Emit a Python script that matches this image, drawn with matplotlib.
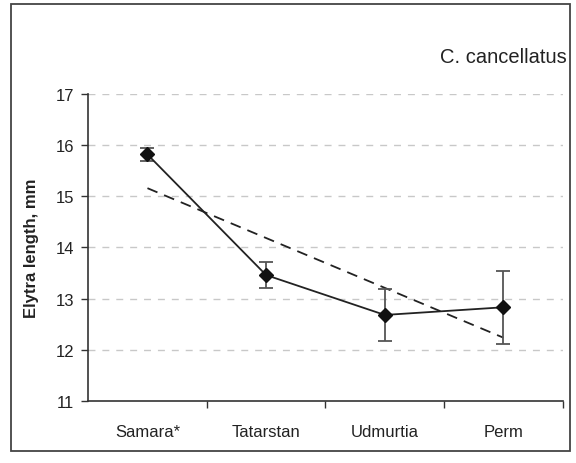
import numpy as np
import matplotlib.pyplot as plt
from matplotlib.patches import Rectangle

plt.rcParams['font.family'] = ['Liberation Sans', 'DejaVu Sans']

# data
regions = ['Samara*', 'Tatarstan', 'Udmurtia', 'Perm']
elytra_mean = [15.82, 13.46, 12.68, 12.83]
elytra_err = [0.12, 0.25, 0.51, 0.71]
y_ticks = [11, 12, 13, 14, 15, 16, 17]

x = np.arange(len(regions))

fig = plt.figure(figsize=(5.76, 4.64), dpi=100)
ax = fig.add_axes([0.153, 0.134, 0.824, 0.661])

# light dashed gridlines
for yv in y_ticks[1:]:
    ax.axhline(yv, color='#c8c8c8', linestyle=(0, (5, 5)), linewidth=1.0, zorder=0)

# linear trend (dashed)
slope, intercept = np.polyfit(x, elytra_mean, 1)
ax.plot(x, slope * x + intercept, color='#222222', linestyle=(0, (6, 4)), linewidth=1.3, zorder=2)

ax.errorbar(x, elytra_mean, yerr=elytra_err, color='#222222', ecolor='#555555',
            elinewidth=1.3, capsize=5, capthick=1.3, linewidth=1.3,
            marker='D', markersize=7, markerfacecolor='#111111',
            markeredgecolor='#111111', zorder=3)

ax.set_xlim(-0.5, len(regions) - 0.5)
ax.set_ylim(11, 17)
ax.set_yticks(y_ticks)
ax.set_xticks(x)
ax.set_xticklabels(regions)
ax.set_xticks(x + 0.5, minor=True)
ax.tick_params(axis='x', which='major', length=0, pad=17, labelsize=12, colors='#222222')
ax.tick_params(axis='x', which='minor', length=5, width=1, direction='out', color='#333333')
ax.tick_params(axis='y', length=5, width=1, direction='out', labelsize=12, pad=5,
               color='#333333', labelcolor='#222222')

for side in ['top', 'right']:
    ax.spines[side].set_visible(False)
for side in ['left', 'bottom']:
    ax.spines[side].set_color('#333333')
    ax.spines[side].set_linewidth(1.2)

ax.set_ylabel('Elytra length, mm', fontweight='bold', fontsize=12, labelpad=12, color='#222222')

fig.text(0.984, 0.877, 'C. cancellatus', ha='right', va='center', fontsize=14.5, color='#222222')

# outer frame
fig.patches.append(Rectangle((11 / 576, 1 - 452 / 464), 559 / 576, 447 / 464,
                             transform=fig.transFigure, fill=False,
                             edgecolor='#444444', linewidth=1.3))

fig.savefig('out.png', dpi=100)
